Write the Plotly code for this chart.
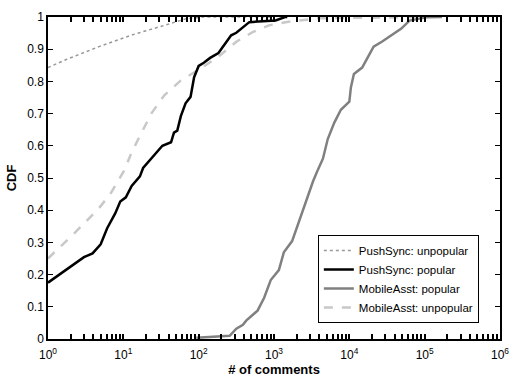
import plotly.graph_objects as go

# CDF of comment counts per app group
push_unpop_x = [1, 1.75, 4.75, 12.9, 35, 71, 95, 115, 300, 1000]
push_unpop_y = [0.843, 0.868, 0.908, 0.944, 0.974, 0.996, 0.998, 1.0, 1.0, 1.0]

push_pop_x = [1, 3.0, 3.9, 5.0, 6.1, 7.8, 9.1, 10.8, 12.9, 16.6, 18.3, 24.7, 33, 43, 47, 52,
              58, 67, 78, 87, 100, 117, 142, 183, 212, 246, 270, 316, 427, 470, 1050, 1400, 1500]
push_pop_y = [0.175, 0.254, 0.266, 0.294, 0.344, 0.39, 0.427, 0.44, 0.475, 0.505, 0.531, 0.566,
              0.60, 0.611, 0.641, 0.647, 0.692, 0.732, 0.752, 0.813, 0.848, 0.858, 0.873, 0.888,
              0.908, 0.928, 0.943, 0.951, 0.974, 0.984, 0.989, 1.0, 1.0]

mobile_pop_x = [93, 258, 316, 387, 427, 605, 740, 905, 1160, 1350, 1740, 2100, 2450, 2830, 3300,
                3830, 4460, 5170, 6320, 7720, 10000, 10500, 11500, 14800, 17300, 21000, 27000,
                36000, 42000, 49000, 63000, 105000, 170000]
mobile_pop_y = [0.004, 0.01, 0.032, 0.044, 0.057, 0.088, 0.128, 0.183, 0.214, 0.269, 0.304, 0.36,
                0.405, 0.445, 0.49, 0.526, 0.56, 0.621, 0.672, 0.712, 0.737, 0.782, 0.823, 0.843,
                0.873, 0.908, 0.923, 0.942, 0.952, 0.964, 0.989, 0.999, 1.0]

mobile_unpop_x = [1, 1.43, 2.14, 3.2, 4.7, 6.7, 8.7, 10.4, 12.9, 17.4, 23.5, 35, 58, 95, 174, 316,
                  520, 855, 1420, 3800, 20000, 100000]
mobile_unpop_y = [0.25, 0.284, 0.324, 0.365, 0.405, 0.45, 0.495, 0.526, 0.58, 0.641, 0.70, 0.757,
                  0.803, 0.833, 0.873, 0.923, 0.953, 0.974, 0.984, 0.996, 0.999, 1.0]

x_decades = [1, 10, 100, 1000, 10000, 100000, 1000000]
x_decade_text = ["10<sup>%d</sup>" % i for i in range(7)]
y_tick_vals = [0, 0.1, 0.2, 0.3, 0.4, 0.5, 0.6, 0.7, 0.8, 0.9, 1]
y_tick_text = ["0", "0.1", "0.2", "0.3", "0.4", "0.5", "0.6", "0.7", "0.8", "0.9", "1"]

# log ticks: labelled decades plus unlabelled 2..9 in between
x_tick_vals = list(x_decades)
x_tick_text = list(x_decade_text)
for d in x_decades[:-1]:
    for m in range(2, 10):
        x_tick_vals.append(m * d)
        x_tick_text.append("")

fig = go.Figure()
fig.add_trace(go.Scatter(x=mobile_unpop_x, y=mobile_unpop_y, mode="lines",
                         name="MobileAsst: unpopular", legendrank=4,
                         line=dict(color="#c8c8c8", width=2.5, dash="dash")))
fig.add_trace(go.Scatter(x=push_unpop_x, y=push_unpop_y, mode="lines",
                         name="PushSync: unpopular", legendrank=1,
                         line=dict(color="#999999", width=1.5, dash="dot")))
fig.add_trace(go.Scatter(x=mobile_pop_x, y=mobile_pop_y, mode="lines",
                         name="MobileAsst: popular", legendrank=3,
                         line=dict(color="#808080", width=2.5)))
fig.add_trace(go.Scatter(x=push_pop_x, y=push_pop_y, mode="lines",
                         name="PushSync: popular", legendrank=2,
                         line=dict(color="#000000", width=2.5)))

font_family = "Liberation Sans, Arial, sans-serif"
fig.update_layout(
    width=519, height=385,
    margin=dict(l=48, r=10, t=13, b=41),
    paper_bgcolor="white", plot_bgcolor="white",
    font=dict(family=font_family, size=12, color="black"),
    showlegend=True,
    legend=dict(x=0.597, y=0.323, xanchor="left", yanchor="top",
                bordercolor="black", borderwidth=1, bgcolor="white",
                font=dict(size=11.5), tracegroupgap=0, itemwidth=30),
    xaxis=dict(type="log", range=[0, 6], tickmode="array",
               tickvals=x_tick_vals, ticktext=x_tick_text,
               ticks="inside", ticklen=5, tickwidth=1.5, tickcolor="black",
               showline=True, linecolor="black", linewidth=1.5, mirror="ticks",
               showgrid=False, zeroline=False, ticklabelstandoff=4,
               title=dict(text="<b># of comments</b>", font=dict(size=13), standoff=4)),
    yaxis=dict(range=[0, 1], tickvals=y_tick_vals, ticktext=y_tick_text,
               ticks="inside", ticklen=5, tickwidth=1.2, tickcolor="black",
               showline=True, linecolor="black", linewidth=1.5, mirror="ticks",
               showgrid=False, zeroline=False,
               title=dict(text="<b>CDF</b>", font=dict(size=13), standoff=8)),
)

fig.write_html("out.html")
